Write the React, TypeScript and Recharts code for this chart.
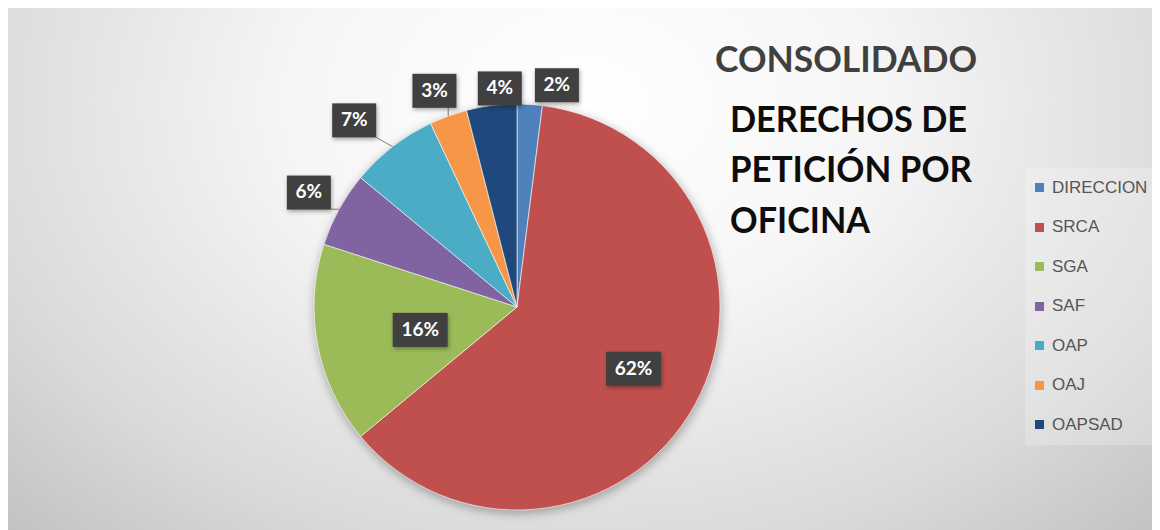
import { Cell, Legend, Pie, PieChart } from 'recharts'

const offices = ['DIRECCION', 'SRCA', 'SGA', 'SAF', 'OAP', 'OAJ', 'OAPSAD']
const shares = [2, 62, 16, 6, 7, 3, 4]
const colors = ['#4f81bd', '#c0504d', '#9bbb59', '#8064a2', '#4bacc6', '#f79646', '#1f497d']

// where each data label sits: radius as a share of the pie radius, and a clockwise nudge in degrees
const labelRadius = [1.11, 0.65, 0.49, 1.17, 1.22, 1.14, 1.08]
const labelTurn = [6.6, -0.9, -2.5, 0, -3.3, -1.1, 2.7]

const data = offices.map((name, i) => ({ name, value: shares[i] }))
const backing = [{ name: 'all', value: 1 }]

const W = 1152
const H = 522
const RAD = Math.PI / 180

const polar = (cx: number, cy: number, r: number, angle: number) => ({
  x: cx + Math.cos(-angle * RAD) * r,
  y: cy + Math.sin(-angle * RAD) * r,
})

function renderLabel(props: any) {
  const { cx, cy, midAngle, outerRadius, percent, index } = props
  const text = `${Math.round(percent * 100)}%`
  const pos = polar(cx, cy, outerRadius * labelRadius[index], midAngle - labelTurn[index])
  const w = text.length * 11 + 22
  const h = 34
  const left = pos.x - w / 2
  const top = pos.y - h / 2

  let leader = null
  if (labelRadius[index] > 1) {
    const edge = polar(cx, cy, outerRadius, midAngle)
    const nx = Math.min(Math.max(edge.x, left), left + w)
    const ny = Math.min(Math.max(edge.y, top), top + h)
    if (Math.hypot(nx - edge.x, ny - edge.y) > 6) {
      leader = <line x1={edge.x} y1={edge.y} x2={nx} y2={ny} stroke="#7f7f7f" strokeWidth={1} />
    }
  }

  return (
    <g key={`lbl-${index}`}>
      {leader}
      <rect x={left} y={top} width={w} height={h} fill="#3f3f3f" filter="url(#boxShadow)" />
      <text
        x={pos.x}
        y={pos.y + 1}
        textAnchor="middle"
        dominantBaseline="middle"
        fill="#ffffff"
        fontFamily="Lato, 'Open Sans', sans-serif"
        fontWeight={700}
        fontSize={19}
      >
        {text}
      </text>
    </g>
  )
}

function renderLegend() {
  return (
    <div style={{ background: 'rgba(255,255,255,0.22)', height: '100%' }}>
      {offices.map((name, i) => (
        <div
          key={name}
          style={{
            height: 39.5,
            display: 'flex',
            alignItems: 'center',
            paddingLeft: 10,
            fontFamily: "'Liberation Sans', Arial, sans-serif",
            fontSize: 17,
            color: '#555555',
          }}
        >
          <span style={{ width: 9, height: 9, background: colors[i], marginRight: 8, display: 'inline-block' }} />
          {name}
        </div>
      ))}
    </div>
  )
}

const titleFont = "Lato, 'Open Sans', sans-serif"

export default function App() {
  return (
    <div
      style={{
        position: 'relative',
        width: W,
        height: H,
        background:
          'radial-gradient(ellipse 72% 115% at 50% 18%, #ffffff 0%, #f6f6f6 35%, #dadada 75%, #c2c2c2 100%)',
      }}
    >
      <svg width={0} height={0} style={{ position: 'absolute' }}>
        <defs>
          <filter id="boxShadow" x="-30%" y="-30%" width="160%" height="170%">
            <feDropShadow dx={1} dy={2} stdDeviation={2} floodColor="#000" floodOpacity={0.35} />
          </filter>
          <filter id="pieShadow" x="-10%" y="-10%" width="120%" height="125%">
            <feGaussianBlur stdDeviation={5} />
          </filter>
        </defs>
      </svg>
      <div
        style={{
          position: 'absolute',
          top: -8,
          left: 1100,
          width: 52,
          height: 8,
          background: 'radial-gradient(ellipse at 100% 100%, #f1dcc4 0%, #f7ece0 60%, #ffffff 100%)',
        }}
      />
      <PieChart width={W} height={H} margin={{ top: 0, right: 0, bottom: 0, left: 0 }}>
        <Pie
          data={backing}
          dataKey="value"
          cx={510}
          cy={302}
          outerRadius={204}
          startAngle={90}
          endAngle={-270}
          stroke="none"
          isAnimationActive={false}
          legendType="none"
        >
          <Cell fill="#000" fillOpacity={0.28} filter="url(#pieShadow)" />
        </Pie>
        <Pie
          data={data}
          dataKey="value"
          nameKey="name"
          cx={509}
          cy={299}
          outerRadius={203}
          startAngle={90}
          endAngle={-270}
          stroke="#ffffff"
          strokeWidth={1}
          strokeOpacity={0.6}
          label={renderLabel}
          labelLine={false}
          isAnimationActive={false}
        >
          {data.map((d, i) => (
            <Cell key={d.name} fill={colors[i]} />
          ))}
        </Pie>
        <Legend
          layout="vertical"
          align="right"
          verticalAlign="top"
          content={renderLegend}
          wrapperStyle={{ left: 1017, top: 160, width: 130, height: 277 }}
        />
      </PieChart>
      <svg width={W} height={H} style={{ position: 'absolute', left: 0, top: 0, pointerEvents: 'none' }}>
        <text x={707} y={64} fontFamily={titleFont} fontWeight={700} fontSize={37} fill="#404040" textLength={262} lengthAdjust="spacingAndGlyphs">
          CONSOLIDADO
        </text>
        <text x={722} y={124} fontFamily={titleFont} fontWeight={700} fontSize={37} fill="#0d0d0d" textLength={237} lengthAdjust="spacingAndGlyphs">
          DERECHOS DE
        </text>
        <text x={722} y={174} fontFamily={titleFont} fontWeight={700} fontSize={37} fill="#0d0d0d" textLength={242} lengthAdjust="spacingAndGlyphs">
          PETICIÓN POR
        </text>
        <text x={722} y={225} fontFamily={titleFont} fontWeight={700} fontSize={37} fill="#0d0d0d" textLength={140} lengthAdjust="spacingAndGlyphs">
          OFICINA
        </text>
      </svg>
    </div>
  )
}
